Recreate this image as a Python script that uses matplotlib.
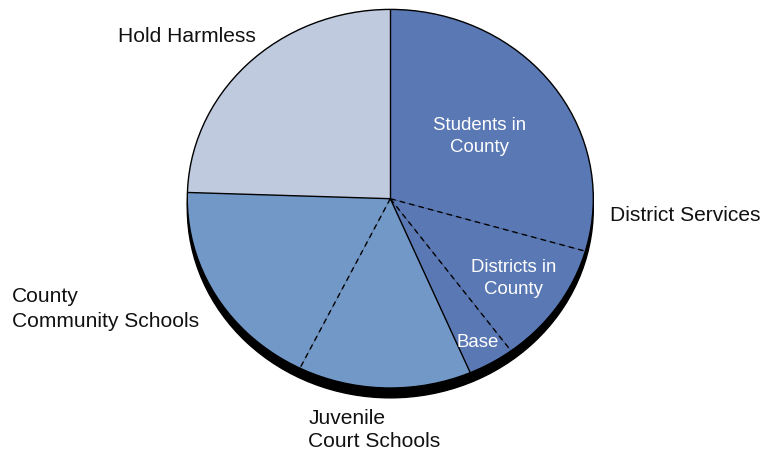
import matplotlib
matplotlib.use("Agg")
import matplotlib.pyplot as plt
import numpy as np
from matplotlib.patches import Ellipse

plt.rcParams['font.family'] = ['Liberation Sans', 'DejaVu Sans']

# Slices, clockwise from 12 o'clock
categories = ["Students in County", "Districts in County", "Base",
              "Juvenile Court Schools", "County Community Schools", "Hold Harmless"]
values = [29.5, 10.4, 3.7, 13.8, 18.2, 24.5]
colors = ["#5a78b4", "#5a78b4", "#5a78b4", "#7298c8", "#7298c8", "#bfcadf"]
# boundary style at the end (clockwise side) of each slice
boundary_styles = ["solid", "dashed", "dashed", "solid", "dashed", "solid"]

W, H = 761, 455
fig = plt.figure(figsize=(W / 100, H / 100), dpi=100)
ax = fig.add_axes([0, 0, 1, 1])

cx, cy, rx, ry = 390.3, 198.7, 203.0, 189.3

wedges, _ = ax.pie(values, colors=colors, startangle=90, counterclock=False,
                   wedgeprops=dict(linewidth=0, edgecolor="none"))
ax.set_aspect('auto')
ax.set_xlim((0 - cx) / rx, (W - cx) / rx)
ax.set_ylim((cy - H) / ry, (cy - 0) / ry)
ax.axis('off')

# 3D rim / shadow behind the pie
shadow = Ellipse((0, -0.052), 2.0, 2.0, facecolor="black", edgecolor="black", zorder=0)
ax.add_patch(shadow)
for w in wedges:
    w.set_zorder(1)

# outline
outline = Ellipse((0, 0), 2.0, 2.0, facecolor="none", edgecolor="black", linewidth=1.0, zorder=3)
ax.add_patch(outline)

# radial boundaries
for w, st in zip(wedges, boundary_styles):
    ang = np.deg2rad(w.theta2)
    xs = [0, np.cos(ang)]
    ys = [0, np.sin(ang)]
    if st == "solid":
        ax.plot(xs, ys, color="black", linewidth=1.0, zorder=3, solid_capstyle='butt')
    else:
        ax.plot(xs, ys, color="black", linewidth=1.0, zorder=3, linestyle=(0, (4, 3)))


def ptext(x, y, s, **kw):
    fig.text(x / W, 1 - y / H, s, va='baseline', **kw)


outer = dict(fontsize=15.1, color="#111111")
ptext(118.3, 41.7, "Hold Harmless", ha='left', **outer)
ptext(610, 221, "District Services", ha='left', **outer)
ptext(11.7, 302, "County", ha='left', **outer)
ptext(11.7, 326.7, "Community Schools", ha='left', **outer)
ptext(308.3, 424, "Juvenile", ha='left', **outer)
ptext(308.3, 447, "Court Schools", ha='left', **outer)

inner = dict(fontsize=13.4, color="white", ha='center')
ptext(479.7, 130, "Students in", **inner)
ptext(479.7, 151.7, "County", **inner)
ptext(513.3, 271.7, "Districts in", **inner)
ptext(513.3, 294, "County", **inner)
ptext(477.8, 346.7, "Base", **inner)

fig.savefig("out.png", dpi=100)
